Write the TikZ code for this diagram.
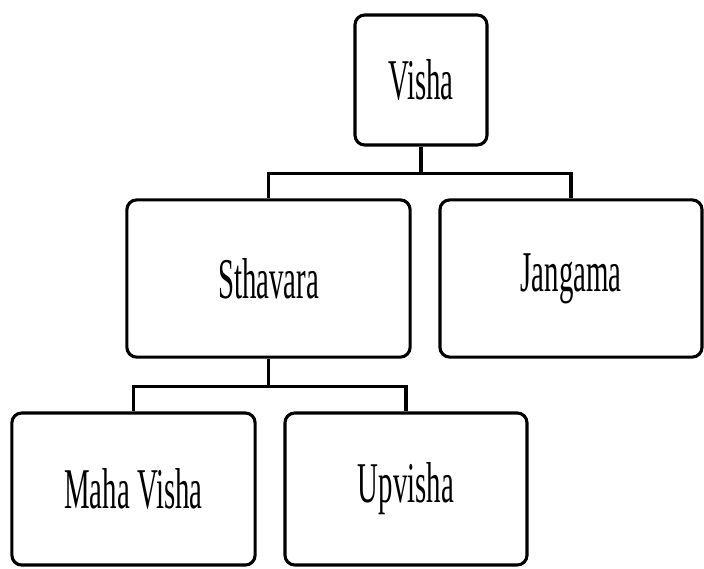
\documentclass[tikz,border=0pt]{standalone}
\usepackage{fontspec}
\setmainfont[FakeStretch=0.5]{Liberation Serif}
\usepackage{tikz}
\usetikzlibrary{positioning, calc}

\begin{document}
\begin{tikzpicture}[
    x=0.025cm, y=-0.025cm,
    box/.style={draw, line width=2.2pt, rounded corners=7pt, fill=white,
        font=\fontsize{41}{45}\selectfont, inner sep=0pt},
    link/.style={line width=2.4pt},
]
    \useasboundingbox (0, 0) rectangle (704, 568);

    % Root
    \node[box, minimum width=3.3cm, minimum height=3.25cm] (visha) at (421, 80) {Visha};

    % Second level
    \node[box, minimum width=7.08cm, minimum height=3.93cm] (sthavara) at (268.5, 278.5) {Sthavara};
    \node[box, minimum width=6.55cm, minimum height=3.93cm] (jangama) at (571, 278.5) {Jangama};

    % Third level
    \node[box, minimum width=6.08cm, minimum height=3.8cm] (maha) at (133.5, 489) {Maha Visha};
    \node[box, minimum width=6.05cm, minimum height=3.8cm] (upvisha) at (406, 489) {Upvisha};

    % Connectors
    \draw[link] (visha.south) -- ++(0, 27) coordinate (vbar) -| (sthavara.north);
    \draw[link] (vbar) -| (jangama.north);
    \draw[link] (sthavara.south) -- ++(0, 28) coordinate (sbar) -| (maha.north);
    \draw[link] (sbar) -| (upvisha.north);
\end{tikzpicture}
\end{document}
